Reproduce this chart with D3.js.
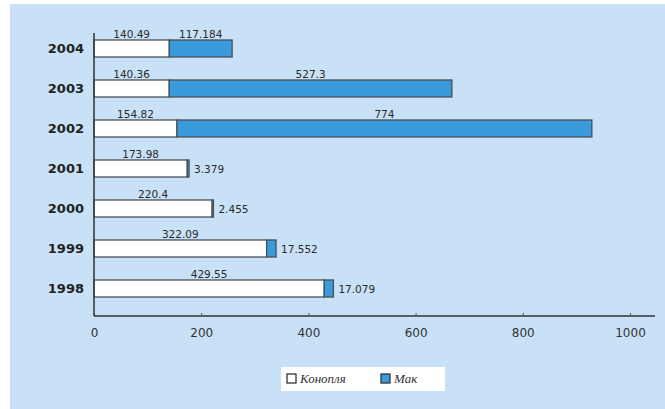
<!DOCTYPE html>
<html>
<head>
<meta charset="utf-8">
<script src="https://cdn.jsdelivr.net/npm/d3@7"></script>
<style>
  html, body { margin: 0; padding: 0; background: #ffffff; }
  svg { display: block; }
</style>
</head>
<body>
<svg id="chart" width="665" height="409"></svg>
<script>
// Years, top to bottom
const years = ["2004", "2003", "2002", "2001", "2000", "1999", "1998"];
// Cannabis (Конопля) and poppy (Мак) amounts
const hemp = [140.49, 140.36, 154.82, 173.98, 220.4, 322.09, 429.55];
const poppy = [117.184, 527.3, 774, 3.379, 2.455, 17.552, 17.079];
// Labels as printed
const hempLabels = ["140.49", "140.36", "154.82", "173.98", "220.4", "322.09", "429.55"];
const poppyLabels = ["117.184", "527.3", "774", "3.379", "2.455", "17.552", "17.079"];
const xTicks = [0, 200, 400, 600, 800, 1000];
const seriesNames = ["Конопля", "Мак"];

const svg = d3.select("#chart");
const W = 665, H = 409;

// background panel
svg.append("rect").attr("x", 0).attr("y", 0).attr("width", W).attr("height", H).attr("fill", "#ffffff");
svg.append("rect").attr("x", 10).attr("y", 4).attr("width", W - 10).attr("height", H - 4).attr("fill", "#c8e1f6");

const x = d3.scaleLinear().domain([0, 1000]).range([94, 630]);
const y = d3.scaleBand().domain(years).range([28, 309]).paddingInner(0.575).paddingOuter(0.3);

const rows = years.map((yr, i) => ({ yr, h: hemp[i], p: poppy[i], hl: hempLabels[i], pl: poppyLabels[i] }));

const g = svg.append("g");

// hemp segments
g.selectAll("rect.hemp").data(rows).join("rect")
  .attr("class", "hemp")
  .attr("x", x(0)).attr("y", d => y(d.yr))
  .attr("width", d => x(d.h) - x(0)).attr("height", y.bandwidth())
  .attr("fill", "#ffffff").attr("stroke", "#4a4f55").attr("stroke-width", 1.3);

// poppy segments
g.selectAll("rect.poppy").data(rows).join("rect")
  .attr("class", "poppy")
  .attr("x", d => x(d.h)).attr("y", d => y(d.yr))
  .attr("width", d => x(d.h + d.p) - x(d.h)).attr("height", y.bandwidth())
  .attr("fill", "#3a9bdc").attr("stroke", "#4a4f55").attr("stroke-width", 1.3);

const labelFont = "'DejaVu Sans', Verdana, sans-serif";

// hemp value labels above the bar
g.selectAll("text.hl").data(rows).join("text")
  .attr("x", d => x(d.h / 2)).attr("y", d => y(d.yr) - 2)
  .attr("text-anchor", "middle")
  .attr("font-family", labelFont).attr("font-size", 10.5).attr("fill", "#2a2a2a")
  .text(d => d.hl);

// poppy value labels: above the segment when wide, to the right otherwise
g.selectAll("text.pl").data(rows).join("text")
  .attr("x", d => d.p > 50 ? x(d.h + d.p / 2) : x(d.h + d.p) + 5)
  .attr("y", d => d.p > 50 ? y(d.yr) - 2 : y(d.yr) + y.bandwidth() / 2 + 4)
  .attr("text-anchor", d => d.p > 50 ? "middle" : "start")
  .attr("font-family", labelFont).attr("font-size", 10.5).attr("fill", "#2a2a2a")
  .text(d => d.pl);

// x axis
const xAxis = svg.append("g").attr("transform", "translate(0,316)")
  .call(d3.axisBottom(x).tickValues(xTicks).tickSize(0).tickPadding(12).tickFormat(d3.format("d")));
xAxis.select(".domain").attr("stroke", "#333").attr("stroke-width", 1.5)
  .attr("d", `M${x(0)},0H655`);
xAxis.selectAll(".tick text").attr("font-family", labelFont).attr("font-size", 12).attr("fill", "#333");
xAxis.selectAll(".tick").append("line").attr("y1", -3).attr("y2", 0).attr("stroke", "#555");

// y axis
const yAxis = svg.append("g").attr("transform", `translate(${x(0)},0)`)
  .call(d3.axisLeft(y).tickSize(0).tickPadding(10));
yAxis.select(".domain").attr("stroke", "#333").attr("stroke-width", 1.5).attr("d", "M0,33V316");
yAxis.selectAll(".tick text").attr("font-family", labelFont).attr("font-size", 13)
  .attr("font-weight", "bold").attr("fill", "#222");

// legend
const lg = svg.append("g");
lg.append("rect").attr("x", 281).attr("y", 367).attr("width", 164).attr("height", 24).attr("fill", "#ffffff");
const legendItems = [
  { name: seriesNames[0], fill: "#ffffff", x: 287 },
  { name: seriesNames[1], fill: "#3a9bdc", x: 381 }
];
legendItems.forEach(it => {
  lg.append("rect").attr("x", it.x).attr("y", 374).attr("width", 9).attr("height", 9)
    .attr("fill", it.fill).attr("stroke", "#333").attr("stroke-width", 1.3);
  lg.append("text").attr("x", it.x + 13).attr("y", 383)
    .attr("font-family", "'Liberation Serif', 'DejaVu Serif', serif").attr("font-style", "italic")
    .attr("font-size", 13).attr("fill", "#333").text(it.name);
});
</script>
</body>
</html>
